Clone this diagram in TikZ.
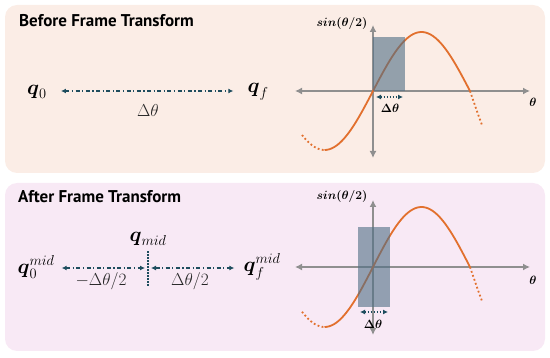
\documentclass[tikz,border=0pt]{standalone}
\usepackage{amsmath,amssymb}
\usepackage{fontspec}
\newfontfamily\titlefont{PT Sans}
\usetikzlibrary{arrows.meta}
\definecolor{panelA}{HTML}{FBEDE6}
\definecolor{panelB}{HTML}{F8E9F5}
\definecolor{curveor}{HTML}{E2702E}
\definecolor{deepteal}{HTML}{1E4D5E}
\definecolor{axisgray}{HTML}{8F8F8F}
\definecolor{boxgray}{HTML}{4F6E85}

\begin{document}
\begin{tikzpicture}[x=1pt, y=-1pt,
    every node/.style={inner sep=0pt},
    title/.style={font=\titlefont\bfseries\fontsize{17}{20}\selectfont, anchor=base west},
    qlab/.style={font=\fontsize{20}{24}\selectfont},
    dlab/.style={font=\fontsize{16.5}{19}\selectfont, text=black!85},
    glab/.style={font=\fontsize{13}{15}\selectfont},
    axis/.style={axisgray, line width=1.6pt, {Latex[length=7pt,width=7pt]}-{Latex[length=7pt,width=7pt]}},
    dashspan/.style={deepteal, line width=1.2pt, dash pattern=on 4pt off 2.5pt on 1.2pt off 2.5pt, {Latex[length=5pt,width=5pt]}-{Latex[length=5pt,width=5pt]}},
    dotspan/.style={deepteal, line width=1.4pt, dash pattern=on 1.4pt off 1.6pt, {Latex[length=5pt,width=5pt]}-{Latex[length=5pt,width=5pt]}},
    curve/.style={curveor, line width=1.8pt},
    curvedot/.style={curveor, line width=1.8pt, dash pattern=on 1.8pt off 2.4pt},
    window/.style={fill=boxgray, fill opacity=0.6, draw=none}]
    \useasboundingbox (0,0) rectangle (550,358);

    % Before Frame Transform
    \fill[panelA, rounded corners=12pt] (5,5) rectangle (545,173);
    \node[title] (t1) at (19,27) {Before Frame Transform};
    \node[qlab] (q0) at (37,92) {$\boldsymbol{q}_0$};
    \node[qlab] (qf) at (258,92) {$\boldsymbol{q}_f$};
    \draw[dashspan, shorten <=14pt, shorten >=14pt] (q0.east |- 0,91) -- (qf.west |- 0,91);
    \node[dlab] (dth) at (148,111) {$\Delta\theta$};

    % graph (before)
    \draw[axis] (295,91) -- (530,91);
    \draw[axis] (373,158) -- (373,25);
    \node[glab] (ylab1) at (342,24) {$\boldsymbol{sin(\theta/2)}$};
    \node[glab] (xlab1) at (533,102) {$\boldsymbol{\theta}$};
    \draw[curve, domain=324.5:470, samples=60, smooth] plot (\x, {91-59*sin(1.8557*(\x-373))});
    \draw[curvedot, domain=302:324.5, samples=10, smooth] plot (\x, {91-59*sin(1.8557*(\x-373))});
    \draw[curvedot, domain=470:482, samples=10, smooth] plot (\x, {91-90*sin(1.8557*(\x-373))});
    \fill[window] (373,37) rectangle (405,91);
    \coordinate (w1l) at (376,97);
    \coordinate (w1r) at (403,97);
    \draw[dotspan] (w1l) -- (w1r);
    \node[glab] (dw1) at (390,108) {$\boldsymbol{\Delta\theta}$};

    % After Frame Transform
    \fill[panelB, rounded corners=12pt] (5,183) rectangle (545,351);
    \node[title] (t2) at (18,203) {After Frame Transform};
    \node[qlab] (m0) at (36,267) {$\boldsymbol{q}_0^{mid}$};
    \node[qlab] (mm) at (148,239) {$\boldsymbol{q}_{mid}$};
    \node[qlab] (mf) at (262,267) {$\boldsymbol{q}_f^{mid}$};
    \coordinate (mbot) at (148,286);
    \draw[deepteal, line width=1.5pt, dash pattern=on 1.5pt off 1.5pt, shorten <=5pt] (mm.south) -- (mbot);
    \draw[dashspan, shorten <=7pt, shorten >=3pt] (m0.east |- 0,268) -- (mm.south |- 0,268);
    \draw[dashspan, shorten <=3pt, shorten >=9pt] (mm.south |- 0,268) -- (mf.west |- 0,268);
    \node[dlab] (lh) at (101,281) {$-\Delta\theta/2$};
    \node[dlab] (rh) at (190,281) {$\Delta\theta/2$};

    % graph (after)
    \draw[axis] (295,267) -- (530,267);
    \draw[axis] (373,335) -- (373,200);
    \node[glab] (ylab2) at (342,197) {$\boldsymbol{sin(\theta/2)}$};
    \node[glab] (xlab2) at (533,280) {$\boldsymbol{\theta}$};
    \draw[curve, domain=324.5:470, samples=60, smooth] plot (\x, {267-60*sin(1.8557*(\x-373))});
    \draw[curvedot, domain=302:324.5, samples=10, smooth] plot (\x, {267-60*sin(1.8557*(\x-373))});
    \draw[curvedot, domain=470:482, samples=10, smooth] plot (\x, {267-90*sin(1.8557*(\x-373))});
    \fill[window] (358,227) rectangle (390,307);
    \coordinate (w2l) at (360,312);
    \coordinate (w2r) at (388,312);
    \draw[dotspan] (w2l) -- (w2r);
    \node[glab] (dw2) at (373,324) {$\boldsymbol{\Delta\theta}$};
\end{tikzpicture}
\end{document}
